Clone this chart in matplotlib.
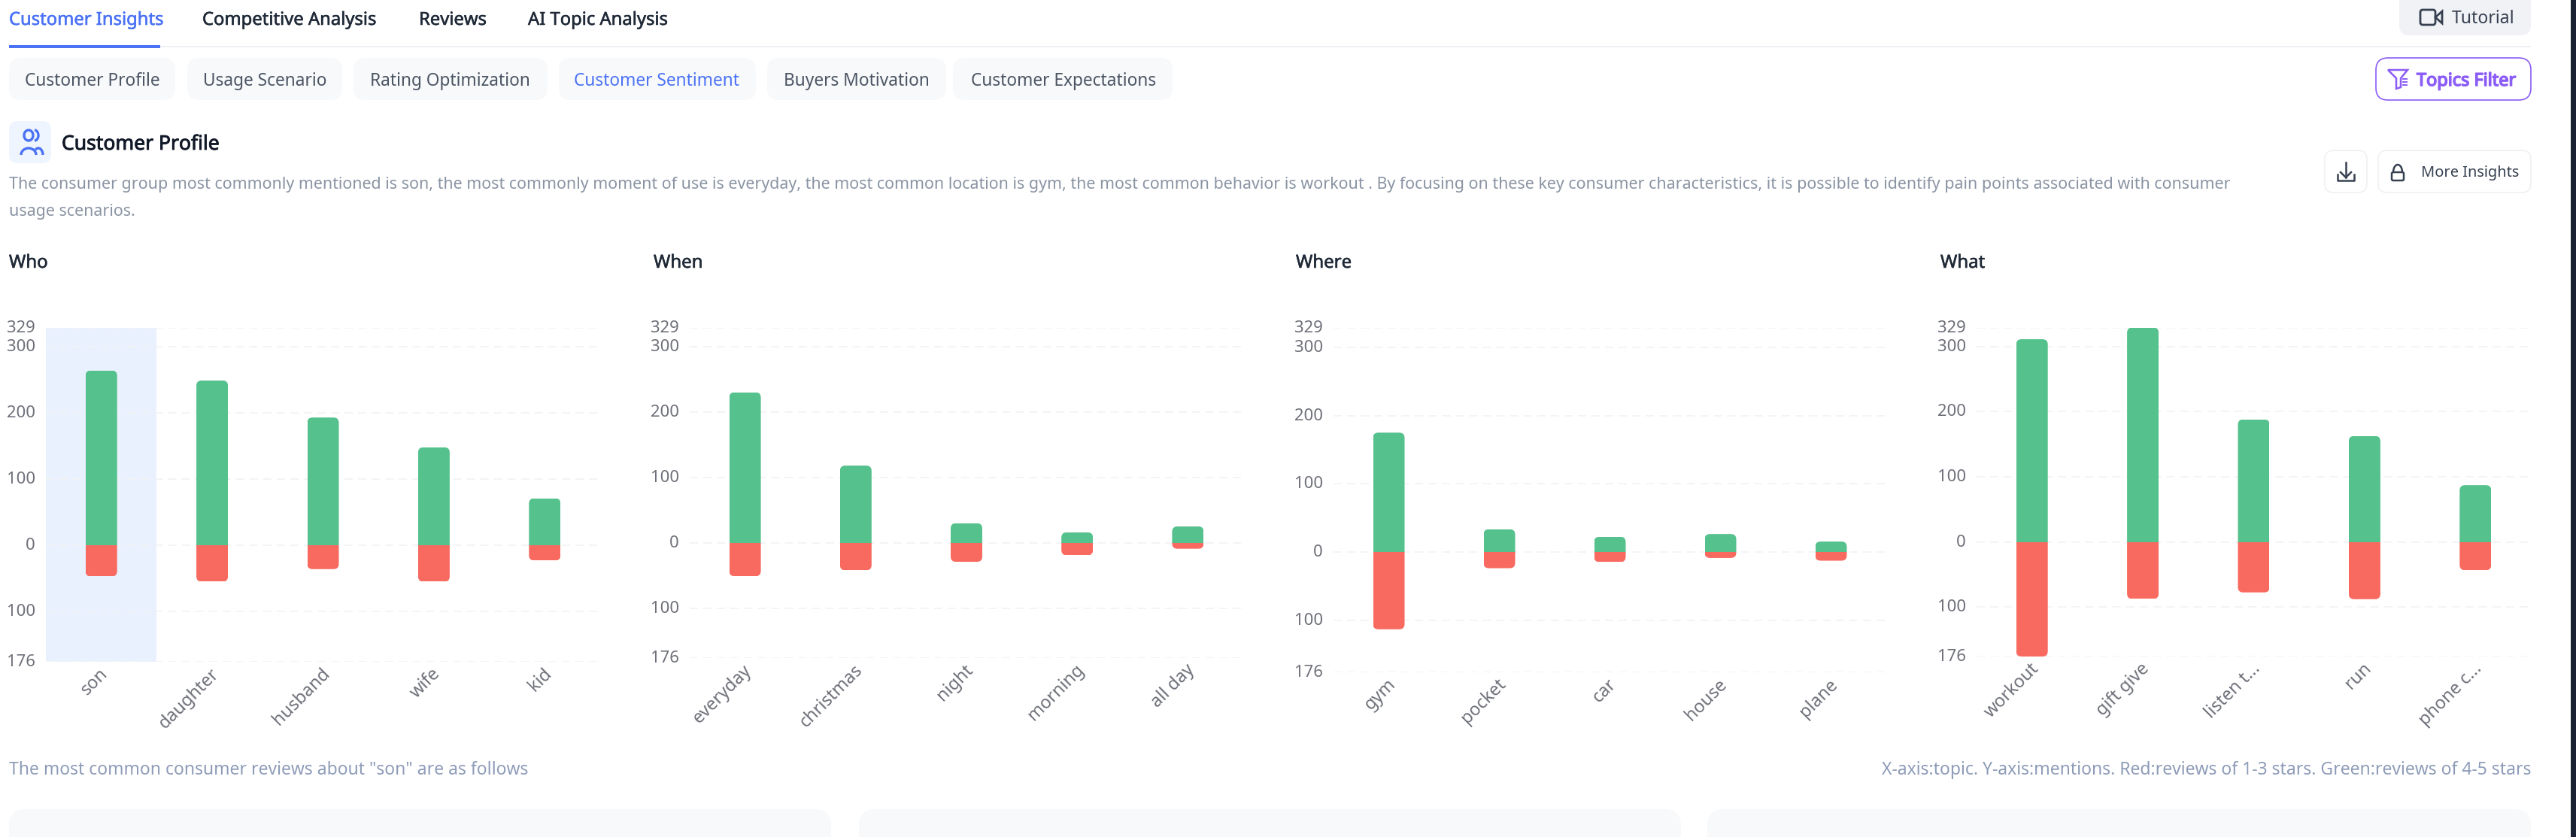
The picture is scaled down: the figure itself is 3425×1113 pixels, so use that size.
import matplotlib
matplotlib.use('Agg')
import matplotlib.pyplot as plt
import matplotlib.patheffects as pe
from matplotlib.patches import FancyBboxPatch, Rectangle, Arc, Polygon
from matplotlib.transforms import IdentityTransform, Affine2D

# chart values
whoLabels = ['son', 'daughter', 'husband', 'wife', 'kid']
whoGood = [264, 249, 193, 148, 71]
whoBad = [47, 55, 36, 55, 23]

whenLabels = ['everyday', 'christmas', 'night', 'morning', 'all day']
whenGood = [230, 118, 30, 16, 25]
whenBad = [51, 42, 29, 19, 9]

whereLabels = ['gym', 'pocket', 'car', 'house', 'plane']
whereGood = [175, 33.5, 22.5, 26.5, 15.5]
whereBad = [113, 23.5, 14.5, 8.5, 12.5]

whatLabels = ['workout', 'gift give', 'listen t...', 'run', 'phone c...']
whatGood = [311, 329, 188, 162.5, 87]
whatBad = [176, 87.6, 77.6, 88, 43.5]

yTicks = [-176, -100, 0, 100, 200, 300, 329]
yTickLabels = ['176', '100', '0', '100', '200', '300', '329']

tabs = ['Customer Insights', 'Competitive Analysis', 'Reviews', 'AI Topic Analysis']
chips = ['Customer Profile', 'Usage Scenario', 'Rating Optimization', 'Customer Sentiment',
         'Buyers Motivation', 'Customer Expectations']

descLine1 = ('The consumer group most commonly mentioned is son, the most commonly moment of use is '
             'everyday, the most common location is gym, the most common behavior is workout . By focusing '
             'on these key consumer characteristics, it is possible to identify pain points associated with consumer')
descLine2 = 'usage scenarios.'
footLeft = 'The most common consumer reviews about "son" are as follows'
footRight = 'X-axis:topic. Y-axis:mentions. Red:reviews of 1-3 stars. Green:reviews of 4-5 stars'

W, H = 3425, 1113
BLUE = '#4B72F5'
GREEN = '#55C18C'
RED = '#F8695F'
PURPLE = '#8B5CF6'
CHIP = '#F8F9FB'

plt.rcParams['font.family'] = ['Noto Sans', 'DejaVu Sans']
fig = plt.figure(figsize=(W / 100, H / 100), dpi=100, facecolor='white')

# page furniture is drawn in pixel coords on one full size axes
ui = fig.add_axes([0, 0, 1, 1], zorder=0)
ui.set_xlim(0, W)
ui.set_ylim(H, 0)
ui.axis('off')


def px(size):
    return size * 0.72


def label(x, y, s, size, color, ha='left', stroke=0):
    t = ui.text(x, y, s, fontsize=px(size), color=color, ha=ha, va='center')
    if stroke:
        # fake the medium / bold weights
        t.set_path_effects([pe.withStroke(linewidth=stroke, foreground=color)])


def box(x0, y0, x1, y1, face, edge='none', r=14, lw=0):
    ui.add_patch(FancyBboxPatch((x0, y0), x1 - x0, y1 - y0, boxstyle='round,pad=0,rounding_size=%d' % r,
                                facecolor=face, edgecolor=edge, linewidth=lw))


# top tabs
for x, s, c in zip([12, 269, 557, 702], tabs, [BLUE, '#1F2937', '#1F2937', '#1F2937']):
    label(x, 27, s, 23.8, c, stroke=0.4)
ui.add_patch(Rectangle((12, 61), 3353, 2, facecolor='#EEF0F3'))
ui.add_patch(Rectangle((12, 60), 201, 3.5, facecolor=BLUE))
box(3190, -20, 3365, 47, '#F1F2F6')
label(3260, 25, 'Tutorial', 23, '#374151')
# camera icon
box(3218, 13, 3238, 33, 'none', '#374151', r=3, lw=2)
ui.add_patch(Polygon([[3238, 23], [3247, 15], [3247, 31]], closed=True, facecolor='none', edgecolor='#374151', linewidth=2))

# chips
chipX0 = [12, 249, 470, 743, 1020, 1267]
chipX1 = [233, 455, 728, 1005, 1258, 1559]
chipText = [33, 270, 492, 763, 1042, 1291]
for i, s in enumerate(chips):
    box(chipX0[i], 77, chipX1[i], 133, CHIP, r=16)
    label(chipText[i], 108, s, 22.7, BLUE if i == 3 else '#4B5563')
box(3159, 77, 3365, 133, 'white', PURPLE, r=16, lw=1.2)
label(3213, 108, 'Topics Filter', 23.5, PURPLE, stroke=1.1)
ui.add_patch(Polygon([[3175, 93], [3201, 93], [3192, 104], [3192, 116], [3186, 118], [3186, 104]],
                     closed=True, facecolor='none', edgecolor=PURPLE, linewidth=1.8))
for y in [105, 109, 113]:
    ui.plot([3195, 3200], [y, y], color=PURPLE, lw=1.4)

# section head
box(12, 161, 68, 217, '#EEF5FE', r=12)
for cx, cy, rw, rh, t1, t2 in [(38, 180, 12, 14, 0, 360), (38, 206, 20, 18, 180, 360)]:
    ui.add_patch(Arc((cx, cy), rw, rh, theta1=t1, theta2=t2, color=BLUE, linewidth=2.4))
ui.add_patch(Arc((46, 180), 10, 14, theta1=-90, theta2=90, color=BLUE, linewidth=2.4))
ui.add_patch(Arc((51, 206), 12, 18, theta1=240, theta2=360, color=BLUE, linewidth=2.4))
label(82, 192, 'Customer Profile', 26.5, '#111827', stroke=0.6)
label(12, 246, descLine1, 21.4, '#8A94A3')
label(12, 281, descLine2, 21.4, '#8A94A3')

box(3091, 200, 3147, 256, 'white', '#EEF0F3', r=12, lw=1.2)
box(3162, 200, 3365, 256, 'white', '#EEF0F3', r=12, lw=1.2)
label(3219, 230, 'More Insights', 20, '#374151')
# download icon
ui.plot([3119, 3119], [216, 236], color='#374151', lw=1.8)
ui.plot([3112, 3119, 3126], [229, 236, 229], color='#374151', lw=1.8)
ui.plot([3108, 3108, 3130, 3130], [232, 240, 240, 232], color='#374151', lw=1.8)
# lock icon
box(3180, 229, 3196, 240, 'none', '#374151', r=2, lw=1.8)
ui.add_patch(Arc((3188, 229), 12, 20, theta1=180, theta2=360, color='#374151', linewidth=1.8))

for x, s in zip([12, 869, 1723, 2580], ['Who', 'When', 'Where', 'What']):
    label(x, 350, s, 24, '#1F2937', stroke=0.4)

label(12, 1024, footLeft, 22.9, '#8E9CB8')
label(3365, 1024, footRight, 22.95, '#8E9CB8', ha='right')

box(12, 1076, 1105, 1160, CHIP, r=22)
box(1142, 1076, 2235, 1160, CHIP, r=22)
box(2270, 1076, 3365, 1160, CHIP, r=22)
ui.add_patch(Rectangle((3418, 0), 7, H, facecolor='#1A2233'))


def rounded_bars(ax, bars, up):
    # clip every bar so that only its far end gets round corners
    r = 7
    for b in bars:
        e = b.get_window_extent()
        if up:
            y0, h = e.y0 - 2 * r, e.height + 2 * r
        else:
            y0, h = e.y0, e.height + 2 * r
        clip = FancyBboxPatch((e.x0, y0), e.width, h, boxstyle='round,pad=0,rounding_size=%d' % r,
                              transform=IdentityTransform())
        b.set_clip_path(clip)


def chart(x0, x1, y0, y1, names, good, bad, highlight=None):
    ax = fig.add_axes([x0 / W, 1 - y1 / H, (x1 - x0) / W, (y1 - y0) / H], zorder=2)
    ax.patch.set_alpha(0)
    ax.set_xlim(-0.5, 4.5)
    ax.set_ylim(yTicks[0], yTicks[-1])
    for s in ax.spines.values():
        s.set_visible(False)
    if highlight is not None:
        ax.axvspan(highlight - 0.5, highlight + 0.5, color='#E9F0FE', lw=0, zorder=0)
    ax.set_axisbelow(True)
    ax.yaxis.grid(True, color='#F2F3F5', linewidth=1.3, linestyle=(0, (6, 4)), zorder=1)
    ax.set_yticks(yTicks, yTickLabels)
    ax.set_xticks(range(5), names)
    ax.tick_params(axis='y', length=0, pad=10, labelsize=px(22), labelcolor='#6E7079')
    ax.tick_params(axis='x', length=0, pad=3, labelsize=px(23.5), labelcolor='#6E7079')
    for t in ax.get_xticklabels():
        t.set_rotation(45)
        t.set_ha('right')
        t.set_va('top')
        t.set_rotation_mode('anchor')
        t.set_transform(t.get_transform() + Affine2D().translate(-3, 0))
    for t in ax.get_yticklabels():
        t.set_transform(t.get_transform() + Affine2D().translate(0, 2))
    width = 42 / ((x1 - x0) / 5)
    upBars = ax.bar(range(5), good, width=width, color=GREEN, zorder=3)
    downBars = ax.bar(range(5), [-v for v in bad], width=width, color=RED, zorder=3)
    rounded_bars(ax, upBars, True)
    rounded_bars(ax, downBars, False)
    return ax


chart(61, 798, 435.5, 880, whoLabels, whoGood, whoBad, highlight=0)
chart(917, 1653, 435.5, 875, whenLabels, whenGood, whenBad)
chart(1773, 2508, 435.5, 894, whereLabels, whereGood, whereBad)
chart(2628, 3365, 435.5, 873, whatLabels, whatGood, whatBad)

fig.savefig('out.png', dpi=100, facecolor='white')
